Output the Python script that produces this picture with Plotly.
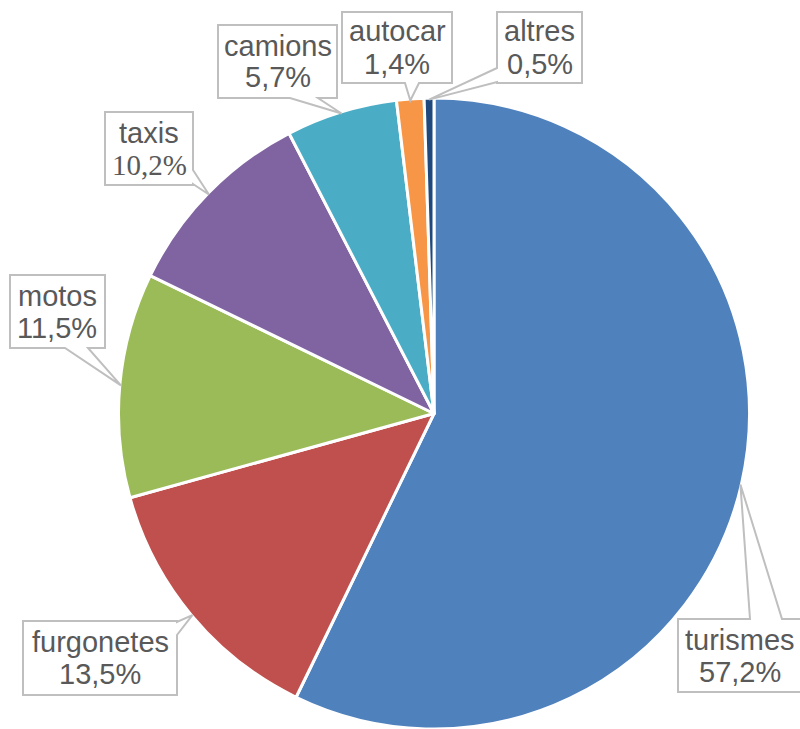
import math
import plotly.graph_objects as go

categories = ["turismes", "furgonetes", "motos", "taxis", "camions", "autocar", "altres"]
values = [57.2, 13.5, 11.5, 10.2, 5.7, 1.4, 0.5]
value_labels = ["57,2%", "13,5%", "11,5%", "10,2%", "5,7%", "1,4%", "0,5%"]
colors = ["#4F81BD", "#C0504D", "#9BBB59", "#8064A2", "#4BACC6", "#F79646", "#1F497D"]

W, H = 800, 729
CX, CY, R = 434, 414, 316

# callout boxes (pixel layout): x0, y0, x1, y1, pointer base (side, a, b)
boxes = {
    "turismes":   (678, 619, 802, 692, ("top", 750, 782)),
    "furgonetes": (23, 621, 177, 695, ("right", 622, 635)),
    "motos":      (10, 275, 105, 348, ("bottom", 65, 88)),
    "taxis":      (105, 112, 193, 185, ("right", 170, 184)),
    "camions":    (218, 25, 337, 98, ("bottom", 290, 318)),
    "autocar":    (342, 12, 452, 83, ("bottom", 405, 419)),
    "altres":     (497, 12, 582, 83, ("left", 68, 82)),
}

def px(x):
    return x / W

def py(y):
    return 1 - y / H

fig = go.Figure(go.Pie(
    labels=categories, values=values, sort=False, direction="clockwise",
    rotation=0, marker=dict(colors=colors, line=dict(color="white", width=3)),
    textinfo="none", hoverinfo="label+percent", showlegend=False,
    domain=dict(x=[(CX - R) / W, (CX + R) / W], y=[max(0, (H - CY - R) / H), (H - CY + R) / H]),
))

total = sum(values)
cum = 0.0
shapes = []
annotations = []
for cat, v, lab in zip(categories, values, value_labels):
    mid = (cum + v / 2) / total * 2 * math.pi
    cum += v
    tx = CX + R * 0.995 * math.sin(mid)
    ty = CY - R * 0.995 * math.cos(mid)
    x0, y0, x1, y1, (side, a, b) = boxes[cat]
    if side == "top":
        pts = [(x0, y0), (a, y0), (tx, ty), (b, y0), (x1, y0), (x1, y1), (x0, y1)]
    elif side == "bottom":
        pts = [(x0, y0), (x1, y0), (x1, y1), (b, y1), (tx, ty), (a, y1), (x0, y1)]
    elif side == "right":
        pts = [(x0, y0), (x1, y0), (x1, a), (tx, ty), (x1, b), (x1, y1), (x0, y1)]
    else:  # left
        pts = [(x0, y0), (x1, y0), (x1, y1), (x0, y1), (x0, b), (tx, ty), (x0, a)]
    path = "M " + " L ".join(f"{px(x):.5f},{py(y):.5f}" for x, y in pts) + " Z"
    shapes.append(dict(type="path", xref="paper", yref="paper", path=path,
                       fillcolor="white", line=dict(color="#BFBFBF", width=2), layer="above"))
    xc = (x0 + x1) / 2
    yc = (y0 + y1) / 2
    sans = "Liberation Sans, Arial, sans-serif"
    serif = "Liberation Serif, Times New Roman, serif"
    annotations.append(dict(
        x=px(xc), y=py(yc - 16), xref="paper", yref="paper", text=cat,
        showarrow=False, xanchor="center", yanchor="middle",
        font=dict(family=sans, size=29, color="#595959"),
    ))
    annotations.append(dict(
        x=px(xc), y=py(yc + 16), xref="paper", yref="paper", text=lab,
        showarrow=False, xanchor="center", yanchor="middle",
        font=dict(family=serif if cat == "taxis" else sans, size=29, color="#595959"),
    ))

fig.update_layout(
    width=W, height=H, margin=dict(l=0, r=0, t=0, b=0),
    paper_bgcolor="white", plot_bgcolor="white",
    shapes=shapes, annotations=annotations,
)
fig.write_html("out.html", config={"displayModeBar": False},
               post_script="document.body.style.margin='0';document.body.style.overflow='hidden';")
